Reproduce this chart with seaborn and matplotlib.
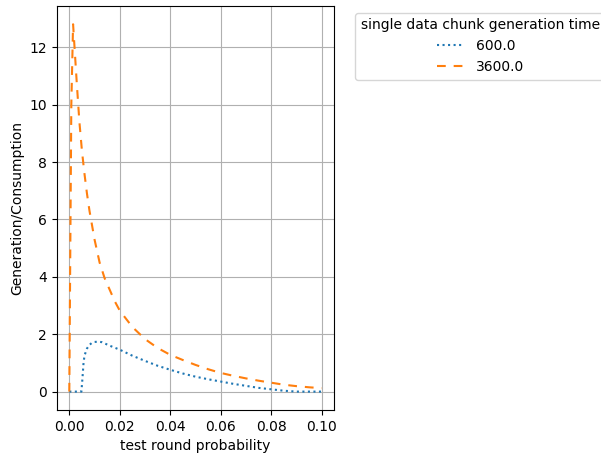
import numpy as np
import pandas as pd
import seaborn as sns
import matplotlib
matplotlib.use("Agg")
import matplotlib.pyplot as plt

# values
x_600 = [0.0, 0.002, 0.004, 0.0048, 0.0052, 0.0056, 0.006, 0.007, 0.008, 0.009,
         0.010, 0.0116, 0.013, 0.016, 0.02, 0.025, 0.03, 0.035, 0.04, 0.045,
         0.05, 0.055, 0.06, 0.065, 0.07, 0.075, 0.08, 0.085, 0.09, 0.095, 0.1]
y_600 = [0.0, 0.0, 0.0, 0.0, 0.45, 0.95, 1.25, 1.5, 1.63, 1.7,
         1.73, 1.74, 1.72, 1.6, 1.46, 1.25, 1.07, 0.9, 0.76, 0.63,
         0.52, 0.43, 0.35, 0.27, 0.2, 0.13, 0.08, 0.03, 0.0, 0.0, 0.0]

x_3600 = [0.0, 0.0008, 0.0015, 0.002, 0.003, 0.004, 0.005, 0.006, 0.007, 0.008,
          0.010, 0.012, 0.014, 0.016, 0.018, 0.02, 0.025, 0.03, 0.035, 0.04,
          0.045, 0.05, 0.055, 0.06, 0.065, 0.07, 0.075, 0.08, 0.085, 0.09,
          0.095, 0.1]
y_3600 = [0.0, 10.0, 12.8, 12.1, 10.7, 9.4, 8.4, 7.6, 6.9, 6.3,
          5.3, 4.5, 3.95, 3.55, 3.15, 2.82, 2.25, 1.83, 1.52, 1.28,
          1.1, 0.93, 0.78, 0.65, 0.55, 0.46, 0.38, 0.31, 0.24, 0.19,
          0.15, 0.12]

gen_times = ["600.0", "3600.0"]

df = pd.concat([
    pd.DataFrame({"p": x_600, "ratio": y_600, "gen": gen_times[0]}),
    pd.DataFrame({"p": x_3600, "ratio": y_3600, "gen": gen_times[1]}),
], ignore_index=True)

fig = plt.figure(figsize=(6.01, 4.53), dpi=100)
ax = fig.add_axes([0.0943, 0.095, 0.4620, 0.892])

sns.lineplot(data=df, x="p", y="ratio", hue="gen", style="gen",
             hue_order=gen_times, style_order=gen_times,
             palette={"600.0": "#1f77b4", "3600.0": "#ff7f0e"},
             dashes={"600.0": (1, 1.65), "3600.0": (4.2, 3.8)},
             ax=ax)

ax.grid(True)
ax.set_xlabel("test round probability")
ax.set_ylabel("Generation/Consumption")
sns.move_legend(ax, "upper left", bbox_to_anchor=(1.05, 1),
                title="single data chunk generation time")

fig.savefig("out.png", dpi=100)
